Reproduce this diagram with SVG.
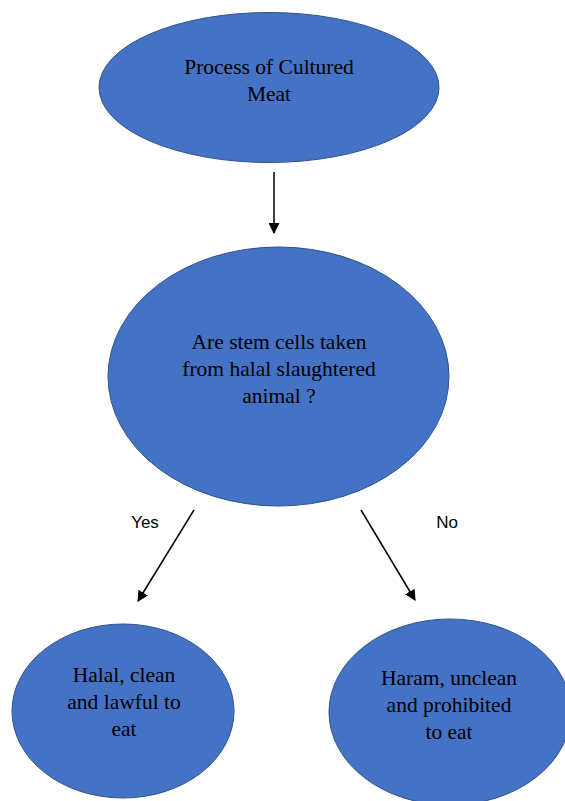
<svg xmlns="http://www.w3.org/2000/svg" width="565" height="801" viewBox="0 0 565 801">
<style>
.node{fill:#4472C4;stroke:#2F528F;stroke-width:1}
.t{font-size:21.5px;fill:#000;text-anchor:middle}
.lbl{font-size:17px;fill:#000;text-anchor:middle}
.conn{stroke:#000;stroke-width:1.5;fill:none;marker-end:url(#ah)}
</style>
<defs>
<marker id="ah" viewBox="0 0 10 10" refX="9" refY="5" markerWidth="11" markerHeight="11" markerUnits="userSpaceOnUse" orient="auto">
<path d="M0,0 L10,5 L0,10 z" fill="#000"/>
</marker>
</defs>
<rect width="565" height="801" fill="#fff"/>
<g font-family="Liberation Serif, Times New Roman, DejaVu Serif, serif">
<g id="n1">
<ellipse class="node" cx="269" cy="87.5" rx="170" ry="75"/>
<text class="t" x="269" y="74">Process of Cultured</text>
<text class="t" x="269" y="101">Meat</text>
</g>
<g id="n2">
<ellipse class="node" cx="278.5" cy="376.5" rx="170.5" ry="129.5"/>
<text class="t" x="279" y="349">Are stem cells taken</text>
<text class="t" x="279" y="376">from halal slaughtered</text>
<text class="t" x="279" y="403">animal ?</text>
</g>
<g id="n3">
<ellipse class="node" cx="123" cy="711" rx="111" ry="87"/>
<text class="t" x="124" y="682">Halal, clean</text>
<text class="t" x="124" y="709">and lawful to</text>
<text class="t" x="124" y="736">eat</text>
</g>
<g id="n4">
<ellipse class="node" cx="450" cy="712" rx="121" ry="93"/>
<text class="t" x="449" y="685">Haram, unclean</text>
<text class="t" x="449" y="712">and prohibited</text>
<text class="t" x="449" y="739">to eat</text>
</g>
</g>
<g id="connectors" font-family="Liberation Sans, Arial, sans-serif">
<line class="conn" x1="274" y1="172" x2="274" y2="233"/>
<line class="conn" x1="194" y1="510" x2="138" y2="601"/>
<line class="conn" x1="361" y1="510" x2="415" y2="600"/>
<text class="lbl" x="145" y="528">Yes</text>
<text class="lbl" x="447" y="528">No</text>
</g>
</svg>
